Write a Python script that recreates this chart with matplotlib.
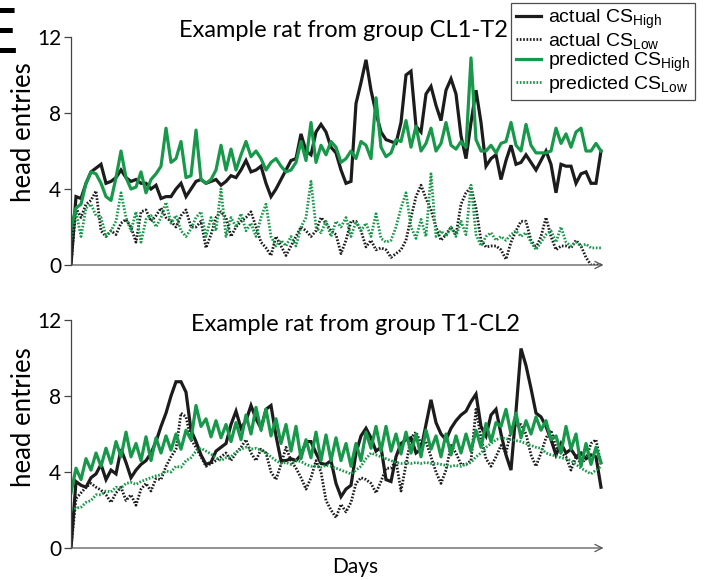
import matplotlib
matplotlib.use("Agg")
import matplotlib.pyplot as plt
from matplotlib.lines import Line2D
import numpy as np

plt.rcParams['mathtext.default'] = 'regular'

# ---- data (one value per day) ----
days = np.arange(107)

top_actual_high = [
    0.0, 3.6, 3.5, 4.3, 4.9, 5.1, 5.3, 4.3, 4.4, 4.6,
    5.0, 4.6, 4.4, 4.5, 4.3, 4.3, 4.0, 4.2, 3.5, 3.6,
    3.6, 4.0, 4.3, 3.6, 4.0, 4.4, 4.5, 4.3, 4.4, 4.5,
    4.2, 4.4, 4.7, 4.6, 5.0, 5.5, 4.9, 5.0, 5.2, 4.3,
    3.6, 4.0, 4.5, 5.0, 5.5, 5.6, 6.9, 6.0, 5.8, 7.0,
    7.4, 7.0, 6.2, 5.9, 5.0, 4.3, 4.4, 8.5, 9.6, 10.8,
    9.2, 8.0, 7.0, 6.6, 6.5, 6.4, 7.5, 10.0, 10.2, 7.3,
    7.0, 9.0, 9.4, 8.4, 7.6, 9.2, 9.8, 9.0, 6.8, 5.6,
    7.5, 9.2, 7.5, 5.2, 5.6, 5.8, 4.5, 5.5, 6.3, 5.3,
    5.4, 5.8, 5.4, 5.0, 5.5, 6.0, 5.3, 3.8, 5.3, 5.2,
    5.2, 4.3, 4.8, 4.9, 4.3, 4.3, 6.0]
top_actual_low = [
    0.0, 3.0, 2.5, 3.2, 3.4, 3.9, 1.8, 1.5, 1.8, 1.6,
    2.2, 2.4, 2.0, 1.2, 2.8, 2.9, 2.3, 2.6, 3.0, 2.5,
    2.3, 2.0, 2.6, 2.9, 2.0, 2.0, 2.3, 0.9, 1.6, 2.5,
    2.8, 2.5, 1.5, 2.0, 2.3, 2.5, 2.8, 2.0, 1.2, 0.9,
    0.5, 1.5, 1.0, 0.5, 1.0, 1.5, 2.0, 1.8, 1.5, 1.8,
    2.5, 2.2, 1.8, 1.6, 0.6, 1.3, 2.3, 2.3, 1.8, 0.95,
    1.3, 0.8, 0.9, 0.8, 0.4, 0.6, 0.8, 1.3, 2.5, 3.6,
    4.2, 3.5, 2.9, 2.0, 1.3, 1.6, 2.0, 1.6, 3.2, 3.8,
    4.1, 3.0, 1.3, 0.95, 1.0, 1.0, 0.8, 0.3, 1.2, 1.8,
    2.3, 2.3, 1.3, 0.9, 1.5, 2.5, 1.5, 0.8, 1.0, 1.0,
    0.9, 1.3, 1.0, 0.4, 0.0, 0.0, 0.0]
top_pred_high = [
    2.0, 3.0, 3.2, 4.3, 4.9, 4.8, 4.3, 3.6, 3.4, 4.6,
    6.0, 4.6, 4.0, 4.1, 4.9, 3.8, 4.5, 4.8, 5.2, 7.2,
    5.4, 5.6, 6.5, 4.6, 4.7, 7.1, 4.5, 4.3, 4.5, 5.0,
    6.3, 5.0, 6.1, 5.0, 5.8, 6.5, 5.7, 6.0, 5.6, 5.0,
    5.4, 5.6, 5.2, 4.9, 5.0, 5.4, 6.5, 5.5, 7.5, 5.4,
    6.3, 5.8, 6.5, 6.2, 5.4, 5.6, 6.0, 5.6, 6.5, 6.3,
    5.6, 8.8, 6.2, 5.7, 5.9, 6.6, 6.5, 7.6, 6.2, 7.3,
    6.0, 6.4, 7.2, 6.0, 6.4, 7.5, 6.3, 6.1, 6.5, 6.2,
    10.9, 6.6, 6.0, 6.0, 6.3, 5.9, 6.4, 6.5, 7.5, 6.3,
    6.0, 7.4, 6.3, 5.9, 5.9, 5.9, 6.0, 7.2, 6.4, 6.9,
    6.2, 7.0, 7.2, 6.0, 6.0, 6.4, 6.0]
top_pred_low = [
    1.3, 2.8, 1.5, 3.0, 3.2, 2.6, 2.5, 1.5, 1.8, 2.3,
    3.8, 2.5, 1.8, 2.8, 1.2, 2.4, 2.6, 2.0, 2.5, 3.3,
    2.2, 2.6, 1.8, 1.5, 1.9, 2.5, 2.8, 1.5, 2.5, 1.8,
    4.0, 1.5, 2.5, 2.0, 2.7, 1.8, 2.2, 1.5, 2.5, 3.2,
    1.5, 1.0, 1.3, 1.0, 1.5, 1.0, 2.0, 2.5, 4.4, 2.0,
    1.7, 2.3, 1.5, 2.3, 2.0, 2.5, 1.5, 2.3, 1.8, 2.2,
    1.5, 2.7, 1.4, 1.2, 1.3, 2.0, 3.0, 3.8, 2.0, 1.4,
    2.4, 1.5, 4.8, 1.5, 1.8, 1.5, 2.0, 1.5, 2.3, 1.6,
    4.2, 1.6, 1.0, 1.5, 1.7, 1.3, 1.5, 1.3, 1.6, 1.8,
    1.5, 1.7, 1.2, 0.8, 1.2, 1.6, 1.8, 1.2, 2.0, 1.2,
    1.0, 1.2, 1.0, 1.1, 0.9, 0.9, 0.9]

bot_actual_high = [
    0.0, 3.5, 3.3, 3.2, 3.7, 3.9, 4.4, 3.6, 4.1, 3.9,
    5.2, 4.5, 3.7, 4.1, 4.4, 4.6, 5.0, 5.6, 6.4, 7.1,
    8.0, 8.75, 8.75, 8.2, 6.2, 5.6, 4.9, 4.4, 4.5, 5.1,
    5.3, 5.5, 6.5, 7.2, 6.3, 6.7, 7.5, 6.8, 6.3, 7.3,
    7.5, 5.9, 4.6, 4.6, 4.7, 4.6, 4.9, 5.6, 5.6, 5.0,
    4.45, 4.4, 4.6, 3.4, 2.7, 3.1, 3.3, 5.0, 5.9, 6.3,
    5.8, 5.1, 5.3, 3.6, 3.5, 4.8, 5.5, 5.7, 5.8, 5.0,
    5.2, 6.5, 7.8, 6.6, 6.0, 5.7, 6.3, 6.7, 7.0, 7.2,
    7.7, 8.1, 6.4, 5.9, 7.0, 7.3, 6.0, 4.9, 4.1, 7.2,
    10.5, 9.6, 8.4, 7.1, 6.9, 6.4, 5.7, 4.9, 5.5, 5.0,
    5.2, 4.8, 5.0, 4.7, 4.9, 4.8, 3.2]
bot_actual_low = [
    0.0, 2.6, 2.9, 3.2, 3.4, 3.2, 3.05, 2.8, 2.4, 2.9,
    3.2, 2.5, 2.8, 2.25, 3.1, 3.4, 3.0, 3.65, 3.6, 4.3,
    4.8, 5.2, 7.1, 6.9, 5.7, 5.3, 4.8, 4.3, 4.45, 4.6,
    4.8, 5.0, 4.6, 5.0, 5.3, 5.7, 5.0, 4.6, 5.2, 5.0,
    4.0, 3.6, 4.4, 5.3, 4.6, 4.2, 3.7, 3.1, 3.7, 4.6,
    4.0, 2.5, 2.0, 1.6, 2.3, 1.9, 2.4, 3.4, 3.7, 3.6,
    3.4, 2.9, 3.5, 4.2, 4.2, 4.6, 3.0, 4.4, 5.8, 6.1,
    5.5, 5.6, 4.8, 4.0, 3.4, 4.1, 5.4, 5.0, 4.4, 4.4,
    4.6, 7.3, 5.8, 4.7, 4.3, 4.8, 5.4, 5.0, 6.2, 6.4,
    6.5, 6.0, 4.9, 4.3, 5.0, 5.8, 6.2, 5.3, 5.0, 4.8,
    4.1, 4.8, 4.45, 4.7, 5.5, 5.7, 4.4]
bot_pred_high = [
    2.9, 4.2, 3.6, 4.7, 4.1, 5.0, 4.3, 5.25, 4.45, 5.6,
    4.8, 6.1, 4.8, 5.5, 4.6, 5.85, 4.6, 5.8, 5.0, 5.9,
    5.15, 6.0, 5.2, 6.2, 5.7, 7.5, 6.4, 6.8, 5.85, 6.7,
    5.8, 6.5, 5.6, 6.6, 5.7, 7.0, 6.0, 7.4, 6.2, 7.3,
    5.9, 6.8, 5.5, 6.5, 5.1, 6.4, 4.7, 5.7, 4.75, 6.1,
    4.6, 5.95, 4.6, 5.8, 4.6, 5.5, 4.3, 5.5, 4.6, 6.1,
    5.25, 6.4, 5.1, 6.4, 5.1, 6.0, 4.95, 6.1, 5.0, 6.0,
    4.8, 6.2, 5.2, 5.9, 4.8, 6.0, 4.9, 5.9, 5.0, 6.0,
    5.1, 6.2, 5.3, 6.55, 5.6, 6.6, 6.4, 7.3, 6.0, 7.1,
    5.8, 6.7, 6.0, 6.9, 6.2, 6.7, 5.7, 5.9, 5.0, 6.4,
    5.2, 6.0, 4.3, 5.5, 4.4, 5.3, 4.5]
bot_pred_low = [
    2.0, 2.1, 2.15, 2.4, 2.5, 2.8, 2.8, 3.0, 2.95, 3.2,
    3.15, 3.4, 3.45, 3.35, 3.5, 3.6, 3.7, 3.8, 3.85, 4.05,
    4.0, 4.3, 4.25, 4.6, 4.75, 5.1, 5.25, 5.1, 4.95, 4.75,
    4.6, 4.75, 4.8, 5.05, 5.2, 5.3, 5.2, 5.25, 5.15, 5.0,
    4.8, 4.6, 4.45, 4.5, 4.4, 4.6, 4.55, 4.4, 4.3, 4.35,
    4.25, 4.35, 4.3, 4.2, 4.1, 4.0, 3.9, 4.1, 4.3, 4.7,
    5.0, 4.9, 4.8, 4.7, 4.6, 4.5, 4.45, 4.5, 4.45, 4.5,
    4.45, 4.5, 4.45, 4.45, 4.4, 4.35, 4.3, 4.35, 4.3, 4.4,
    4.5, 4.8, 5.0, 5.3, 5.5, 5.7, 5.8, 5.75, 5.7, 5.65,
    5.6, 5.5, 5.4, 5.3, 5.25, 5.0, 4.9, 4.85, 4.75, 4.7,
    4.6, 4.4, 4.2, 4.05, 3.9, 4.1, 4.3]

yticks = [0, 4, 8, 12]
titles = ['Example rat from group CL1-T2', 'Example rat from group T1-CL2']
labels = ['actual CS$_{High}$', 'actual CS$_{Low}$',
          'predicted CS$_{High}$', 'predicted CS$_{Low}$']

BLACK = '#1c1c1c'
GREEN = '#18984a'
DOT = (0, (0.6, 0.6))

W, H = 708, 580
fig = plt.figure(figsize=(W / 100, H / 100), dpi=100)


def px_axes(left, right, top, bottom):
    return fig.add_axes([left / W, 1 - bottom / H, (right - left) / W, (bottom - top) / H])


def panel(ax, ah, al, ph, pl, title, tx, ty):
    ax.plot(days, ah, color=BLACK, lw=2.3, solid_joinstyle='miter')
    ax.plot(days, al, color=BLACK, lw=2.0, ls=DOT)
    ax.plot(days, ph, color=GREEN, lw=2.3)
    ax.plot(days, pl, color=GREEN, lw=2.0, ls=DOT)
    ax.set_xlim(0, 106.5)
    ax.set_ylim(0, 12)
    ax.set_yticks(yticks)
    ax.set_xticks([])
    for s in ['top', 'right', 'bottom']:
        ax.spines[s].set_visible(False)
    ax.spines['left'].set_color('#444444')
    ax.spines['left'].set_linewidth(0.9)
    ax.tick_params(axis='y', direction='out', length=5, width=0.9, color='#444444',
                   labelsize=15, pad=2)
    for t in ax.get_yticklabels():
        t.set_family('Lato')
    ax.annotate('', xy=(1.0, 0), xytext=(0, 0), xycoords='axes fraction',
                arrowprops=dict(arrowstyle='->', color='#555555', lw=0.9,
                                mutation_scale=13, shrinkA=0, shrinkB=0),
                annotation_clip=False)
    ax.text(tx, ty, title, transform=ax.transAxes, ha='center', va='baseline',
            fontsize=17, family='Lato')


ax1 = px_axes(71, 603.5, 37, 265)
panel(ax1, top_actual_high, top_actual_low, top_pred_high, top_pred_low,
      titles[0], 0.512, 1.0)
ax2 = px_axes(71, 603.5, 320, 548)
panel(ax2, bot_actual_high, bot_actual_low, bot_pred_high, bot_pred_low,
      titles[1], 0.534, 0.952)

fig.text(24 / W, 1 - 132 / H, 'head entries', rotation=90, ha='center', va='center',
         fontsize=18.5, family='Lato')
fig.text(24 / W, 1 - 417 / H, 'head entries', rotation=90, ha='center', va='center',
         fontsize=18.5, family='Lato')
fig.text(355 / W, 1 - 567 / H, 'Days', ha='center', va='center', fontsize=15, family='Lato')

# panel letter, cut off at the left edge as in the source figure
fig.text(-24 / W, 1 - 53 / H, 'E', ha='left', va='baseline', fontsize=46,
         family='Liberation Sans')

handles = [Line2D([], [], color=BLACK, lw=2.3),
           Line2D([], [], color=BLACK, lw=2.0, ls=DOT),
           Line2D([], [], color=GREEN, lw=2.3),
           Line2D([], [], color=GREEN, lw=2.0, ls=DOT)]
leg = fig.legend(handles, labels, loc='upper left', bbox_to_anchor=(511 / W, 1 - 3 / H),
                 frameon=True, fancybox=False, borderaxespad=0, handlelength=1.3,
                 handletextpad=0.35, labelspacing=0.0, borderpad=0.25,
                 prop={'family': 'Liberation Sans', 'size': 14})
leg.get_frame().set_edgecolor('#222222')
leg.get_frame().set_linewidth(0.9)

fig.savefig('out.png', dpi=100)
